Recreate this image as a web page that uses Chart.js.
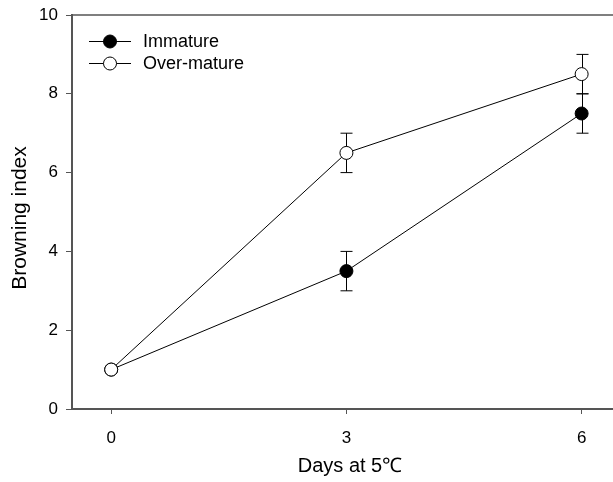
<!DOCTYPE html>
<html>
<head>
<meta charset="utf-8">
<script src="https://cdn.jsdelivr.net/npm/chart.js@4"></script>
<style>
  html, body { margin: 0; padding: 0; background: #fff; overflow: hidden; }
  canvas { display: block; }
</style>
</head>
<body>
<canvas id="browning" width="613" height="482"></canvas>
<script>
const days = [0, 3, 6];
const immature = [1, 3.5, 7.5];
const immatureErr = [0, 0.5, 0.5];
const overMature = [1, 6.5, 8.5];
const overMatureErr = [0, 0.5, 0.5];
const yTicks = [0, 2, 4, 6, 8, 10];

const FONT = "'Liberation Sans', Arial, sans-serif";
const AXIS = "#555";

function pts(values) {
    return days.map((d, i) => ({ x: d, y: values[i] }));
}

// vertical error bars with caps, drawn under the markers
const errorBars = {
    id: "errorBars",
    beforeDatasetsDraw(chart) {
        const { ctx, scales: { x, y } } = chart;
        ctx.save();
        ctx.strokeStyle = "#000";
        ctx.lineWidth = 1;
        chart.data.datasets.forEach(ds => {
            ds.data.forEach((p, i) => {
                const e = ds.err[i];
                if (!e) return;
                const px = Math.round(x.getPixelForValue(p.x)) + 0.5;
                const top = y.getPixelForValue(p.y + e);
                const bot = y.getPixelForValue(p.y - e);
                ctx.beginPath();
                ctx.moveTo(px, top); ctx.lineTo(px, bot);
                ctx.moveTo(px - 6, top); ctx.lineTo(px + 6, top);
                ctx.moveTo(px - 6, bot); ctx.lineTo(px + 6, bot);
                ctx.stroke();
            });
        });
        ctx.restore();
    }
};

// top frame line, axis titles and a legend with line-through-marker samples
const frameAndLegend = {
    id: "frameAndLegend",
    afterDraw(chart) {
        const { ctx, chartArea } = chart;
        ctx.save();
        ctx.strokeStyle = AXIS;
        ctx.lineWidth = 1.5;
        ctx.beginPath();
        ctx.moveTo(chartArea.left, chartArea.top);
        ctx.lineTo(chartArea.right, chartArea.top);
        ctx.stroke();

        // axis titles
        ctx.fillStyle = "#000";
        ctx.textAlign = "center";
        ctx.textBaseline = "alphabetic";
        ctx.font = "20px " + FONT;
        ctx.fillText("Days at 5\u2103", 350, 472);
        ctx.save();
        ctx.translate(26, 218);
        ctx.rotate(-Math.PI / 2);
        ctx.font = "21px " + FONT;
        ctx.fillText("Browning index", 0, 0);
        ctx.restore();

        const entries = [
            { label: "Immature", fill: "#000" },
            { label: "Over-mature", fill: "#fff" }
        ];
        ctx.textAlign = "left";
        ctx.font = "18px " + FONT;
        ctx.textBaseline = "middle";
        entries.forEach((e, i) => {
            const cy = 41 + i * 22;
            ctx.strokeStyle = "#000";
            ctx.lineWidth = 1;
            ctx.beginPath();
            ctx.moveTo(89, cy + 0.5);
            ctx.lineTo(131, cy + 0.5);
            ctx.stroke();
            ctx.beginPath();
            ctx.arc(110, cy + 0.5, 6.5, 0, Math.PI * 2);
            ctx.fillStyle = e.fill;
            ctx.fill();
            ctx.stroke();
            ctx.fillStyle = "#000";
            ctx.fillText(e.label, 143, cy + 1);
        });
        ctx.restore();
    }
};

new Chart(document.getElementById("browning"), {
    type: "line",
    data: {
        datasets: [
            {
                label: "Immature",
                data: pts(immature),
                err: immatureErr,
                borderColor: "#000",
                borderWidth: 1,
                pointRadius: 6.5,
                pointBorderWidth: 1,
                pointBackgroundColor: "#000",
                pointBorderColor: "#000",
                order: 1
            },
            {
                label: "Over-mature",
                data: pts(overMature),
                err: overMatureErr,
                borderColor: "#000",
                borderWidth: 1,
                pointRadius: 6.5,
                pointBorderWidth: 1,
                pointBackgroundColor: "#fff",
                pointBorderColor: "#000",
                order: 0
            }
        ]
    },
    options: {
        responsive: false,
        animation: false,
        layout: { autoPadding: false, padding: { top: 15, right: 0, left: 0, bottom: 0 } },
        plugins: { legend: { display: false }, tooltip: { enabled: false } },
        scales: {
            x: {
                type: "linear",
                min: -0.5,
                max: 6.4,
                afterBuildTicks: s => { s.ticks = days.map(v => ({ value: v })); },
                afterFit: s => { s.height = 73; s.paddingLeft = 0; s.paddingRight = 0; },
                grid: { drawOnChartArea: false, tickLength: 5, color: AXIS },
                border: { color: AXIS, width: 2 },
                ticks: { color: "#000", padding: 14, font: { family: FONT, size: 17 } }
            },
            y: {
                min: 0,
                max: 10,
                afterBuildTicks: s => { s.ticks = yTicks.map(v => ({ value: v })); },
                afterFit: s => { s.width = 72; s.paddingTop = 0; s.paddingBottom = 0; },
                grid: { drawOnChartArea: false, tickLength: 6, color: AXIS },
                border: { color: AXIS, width: 2 },
                ticks: { color: "#000", padding: 8, font: { family: FONT, size: 17 } }
            }
        }
    },
    plugins: [errorBars, frameAndLegend]
});
</script>
</body>
</html>
